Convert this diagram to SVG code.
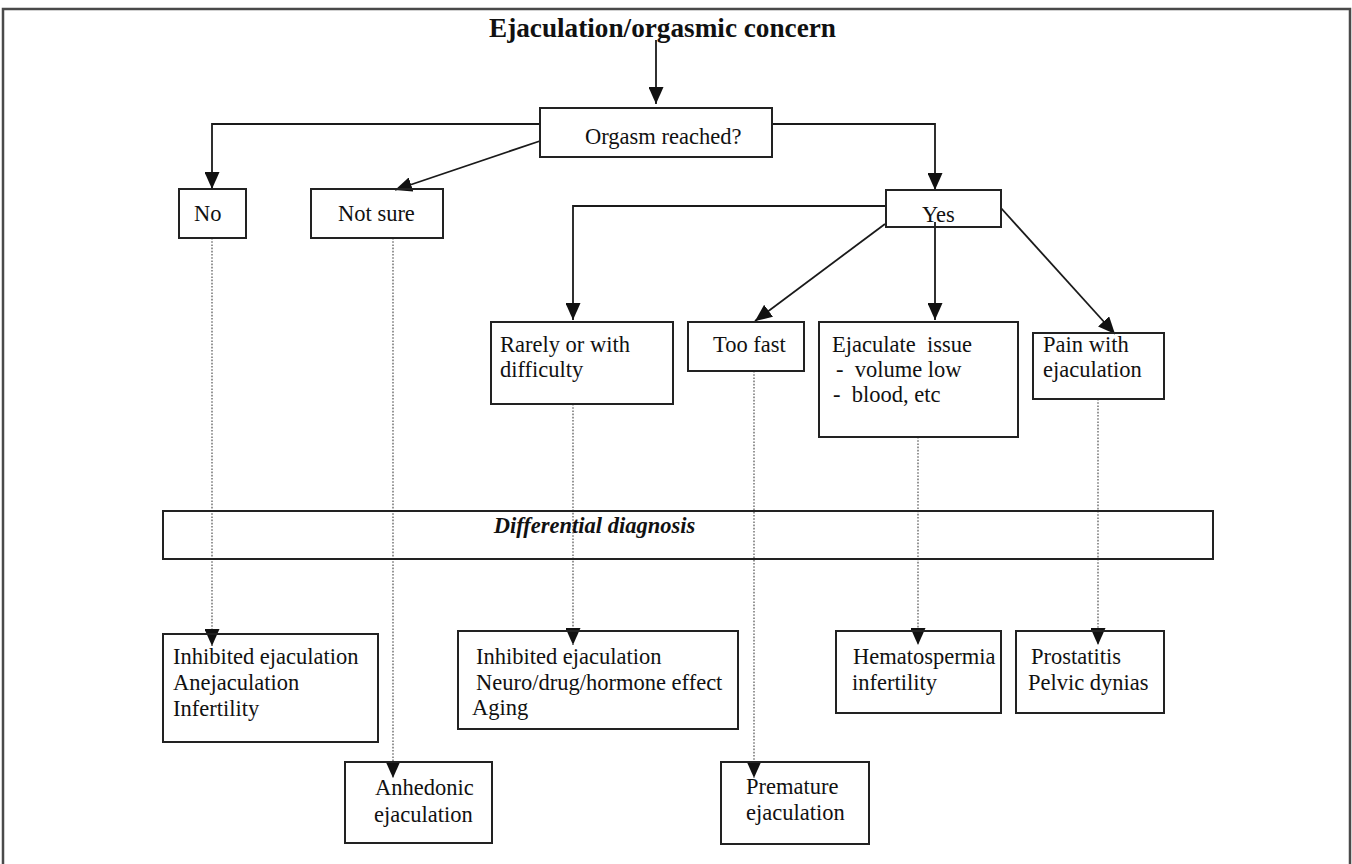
<svg xmlns="http://www.w3.org/2000/svg" width="1352" height="864" viewBox="0 0 1352 864">
<style>
  .frame { fill: none; stroke: #4a4a4a; stroke-width: 2.5; }
  .box { fill: none; stroke: #222; stroke-width: 2; }
  .solid { fill: none; stroke: #1a1a1a; stroke-width: 1.8; }
  .dot { fill: none; stroke: #6a6a6a; stroke-width: 1.4; stroke-dasharray: 1.6 1.6; }
  text { font-family: "Liberation Serif", "Times New Roman", serif; fill: #111; font-size: 22.5px; }
  .title { font-size: 27px; font-weight: bold; }
  .dd { font-weight: bold; font-style: italic; font-size: 22.5px; }
</style>
<defs>
  <marker id="ah" viewBox="0 0 17 15" refX="17" refY="7.5" markerWidth="17" markerHeight="15" markerUnits="userSpaceOnUse" orient="auto">
    <path d="M0,0 L17,7.5 L0,15 z" fill="#111"/>
  </marker>
</defs>
<rect width="1352" height="864" fill="#fff"/>
<path class="frame" d="M3,866 V9 H1350 V866"/>

<g id="title">
  <text class="title" x="489" y="37" textLength="347" lengthAdjust="spacingAndGlyphs">Ejaculation/orgasmic concern</text>
</g>

<g id="connectors">
  <path class="solid" d="M656,40 V104" marker-end="url(#ah)"/>
  <path class="solid" d="M540,124 H212 V189" marker-end="url(#ah)"/>
  <path class="solid" d="M540,141 L395,190" marker-end="url(#ah)"/>
  <path class="solid" d="M772,124 H935 V190" marker-end="url(#ah)"/>
  <path class="solid" d="M886,206 H573 V320" marker-end="url(#ah)"/>
  <path class="solid" d="M885,224 L755,321" marker-end="url(#ah)"/>
  <path class="solid" d="M935,222 V320" marker-end="url(#ah)"/>
  <path class="solid" d="M1001,208 L1115,334" marker-end="url(#ah)"/>
  <path class="dot" d="M212,238 V646" marker-end="url(#ah)"/>
  <path class="dot" d="M393,238 V778" marker-end="url(#ah)"/>
  <path class="dot" d="M573,404 V645" marker-end="url(#ah)"/>
  <path class="dot" d="M754,371 V778" marker-end="url(#ah)"/>
  <path class="dot" d="M918,437 V645" marker-end="url(#ah)"/>
  <path class="dot" d="M1098,399 V645" marker-end="url(#ah)"/>
</g>

<g id="orgasm">
  <rect class="box" x="540" y="108" width="232" height="49"/>
  <text x="585" y="144">Orgasm reached?</text>
</g>
<g id="no">
  <rect class="box" x="179" y="189" width="67" height="49"/>
  <text x="194" y="221">No</text>
</g>
<g id="notsure">
  <rect class="box" x="311" y="189" width="132" height="49"/>
  <text x="338" y="221">Not sure</text>
</g>
<g id="yes">
  <rect class="box" x="886" y="190" width="115" height="37"/>
  <text x="922" y="222">Yes</text>
</g>
<g id="rarely">
  <rect class="box" x="491" y="322" width="182" height="82"/>
  <text x="500" y="352">Rarely or with</text>
  <text x="500" y="377">difficulty</text>
</g>
<g id="toofast">
  <rect class="box" x="688" y="322" width="116" height="49"/>
  <text x="713" y="352">Too fast</text>
</g>
<g id="ejaculate">
  <rect class="box" x="819" y="322" width="199" height="115"/>
  <text x="832" y="352" xml:space="preserve">Ejaculate  issue</text>
  <text x="836" y="377" xml:space="preserve">-  volume low</text>
  <text x="833" y="402" xml:space="preserve">-  blood, etc</text>
</g>
<g id="pain">
  <rect class="box" x="1033" y="333" width="131" height="66"/>
  <text x="1043" y="352">Pain with</text>
  <text x="1043" y="377">ejaculation</text>
</g>
<g id="differential">
  <rect class="box" x="163" y="511" width="1050" height="48"/>
  <text class="dd" x="594.5" y="533" text-anchor="middle">Differential diagnosis</text>
</g>
<g id="inhibited">
  <rect class="box" x="163" y="634" width="215" height="108"/>
  <text x="173" y="664">Inhibited ejaculation</text>
  <text x="173" y="690">Anejaculation</text>
  <text x="173" y="716">Infertility</text>
</g>
<g id="inhibited2">
  <rect class="box" x="458" y="631" width="280" height="98"/>
  <text x="476" y="664">Inhibited ejaculation</text>
  <text x="476" y="690">Neuro/drug/hormone effect</text>
  <text x="472" y="715">Aging</text>
</g>
<g id="anhedonic">
  <rect class="box" x="345" y="762" width="147" height="81"/>
  <text x="375" y="795">Anhedonic</text>
  <text x="374" y="822">ejaculation</text>
</g>
<g id="premature">
  <rect class="box" x="721" y="762" width="148" height="82"/>
  <text x="746" y="794">Premature</text>
  <text x="746" y="820">ejaculation</text>
</g>
<g id="hematospermia">
  <rect class="box" x="836" y="631" width="165" height="82"/>
  <text x="853" y="664">Hematospermia</text>
  <text x="852" y="690">infertility</text>
</g>
<g id="prostatitis">
  <rect class="box" x="1016" y="631" width="148" height="82"/>
  <text x="1031" y="664">Prostatitis</text>
  <text x="1028" y="690">Pelvic dynias</text>
</g>
</svg>
